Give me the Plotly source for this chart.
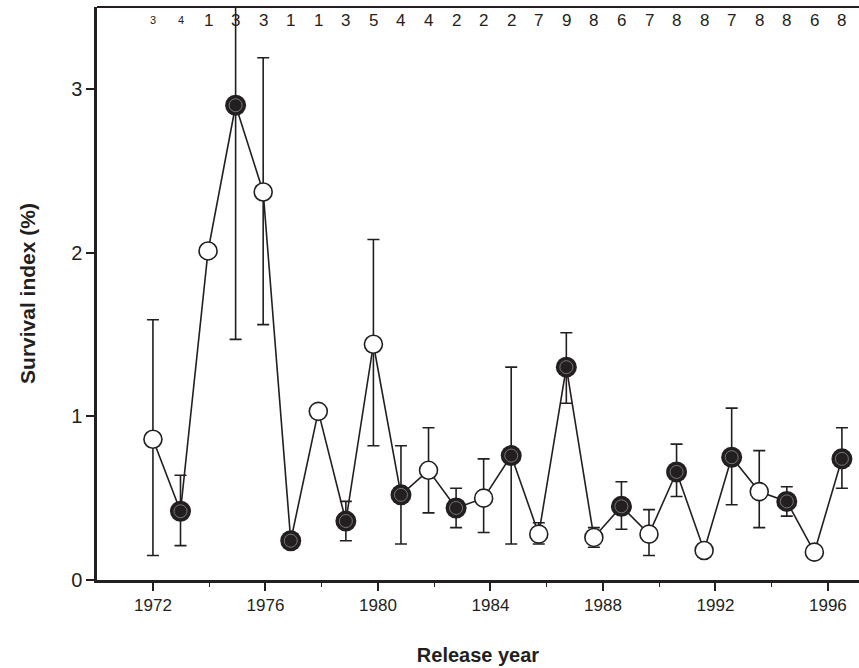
import plotly.graph_objects as go

years = list(range(1972, 1998))
survival = [0.86, 0.42, 2.01, 2.90, 2.37, 0.24, 1.03, 0.36, 1.44, 0.52, 0.67, 0.44, 0.50,
            0.76, 0.28, 1.30, 0.26, 0.45, 0.28, 0.66, 0.18, 0.75, 0.54, 0.48, 0.17, 0.74]
err_upper = [1.59, 0.64, 2.01, 4.33, 3.19, 0.24, 1.03, 0.48, 2.08, 0.82, 0.93, 0.56, 0.74,
             1.30, 0.35, 1.51, 0.32, 0.60, 0.43, 0.83, 0.18, 1.05, 0.79, 0.57, 0.17, 0.93]
err_lower = [0.15, 0.21, 2.01, 1.47, 1.56, 0.24, 1.03, 0.24, 0.82, 0.22, 0.41, 0.32, 0.29,
             0.22, 0.22, 1.08, 0.20, 0.31, 0.15, 0.51, 0.18, 0.46, 0.32, 0.39, 0.17, 0.56]
filled = [False, True, False, True, False, True, False, True, False, True, False, True, False,
          True, False, True, False, True, False, True, False, True, False, True, False, True]
n_counts = [3, 4, 1, 3, 3, 1, 1, 3, 5, 4, 4, 2, 2, 2, 7, 9, 8, 6, 7, 8, 8, 7, 8, 8, 6, 8]
small_counts = [True, True] + [False] * 24
tick_years = [1972, 1976, 1980, 1984, 1988, 1992, 1996]
minor_years = [1970, 1974, 1978, 1982, 1986, 1990, 1994]

# the printed year axis in the source is slightly stretched relative to the plotted points
AXIS_STRETCH = 1.0205
def axis_pos(yr):
    return 1972 + (yr - 1972) * AXIS_STRETCH

plus = [u - v for u, v in zip(err_upper, survival)]
minus = [v - l for v, l in zip(survival, err_lower)]

INK = "#231f20"
FONT = "Liberation Sans, Arial, sans-serif"

fig = go.Figure()
fig.add_trace(go.Scatter(
    x=years, y=survival, mode="lines",
    line=dict(color=INK, width=1.6),
    error_y=dict(type="data", symmetric=False, array=plus, arrayminus=minus,
                 color=INK, thickness=1.6, width=6),
    showlegend=False, hoverinfo="skip"))

fx = [x for x, f in zip(years, filled) if f]
fy = [y for y, f in zip(survival, filled) if f]
ox = [x for x, f in zip(years, filled) if not f]
oy = [y for y, f in zip(survival, filled) if not f]

fig.add_trace(go.Scatter(
    x=ox, y=oy, mode="markers",
    marker=dict(symbol="circle", size=18, color="white", line=dict(color=INK, width=1.6)),
    showlegend=False))
fig.add_trace(go.Scatter(
    x=fx, y=fy, mode="markers",
    marker=dict(symbol="circle", size=21, color=INK, line=dict(color=INK, width=0)),
    showlegend=False))
fig.add_trace(go.Scatter(
    x=fx, y=fy, mode="markers",
    marker=dict(symbol="circle-open", size=13, color="#8a8a8a", line=dict(color="#8a8a8a", width=0.8)),
    showlegend=False))

for yr, n, sm in zip(years, n_counts, small_counts):
    fig.add_annotation(x=yr, y=0.977, xref="x", yref="paper", text=str(n), showarrow=False,
                       font=dict(size=11 if sm else 17, color=INK, family=FONT),
                       yanchor="middle", xanchor="center")

fig.add_shape(type="line", xref="paper", yref="paper", x0=0, x1=1, y0=1, y1=1,
              line=dict(color=INK, width=2))

fig.update_layout(
    width=859, height=668,
    margin=dict(l=97, r=0, t=7, b=88),
    plot_bgcolor="white", paper_bgcolor="white",
    font=dict(family=FONT, color=INK),
)
fig.update_xaxes(
    range=[1969.97, 1997.62], showgrid=False, zeroline=False,
    showline=True, linecolor=INK, linewidth=2.5,
    tickmode="array", tickvals=[axis_pos(t) for t in tick_years], ticktext=[str(t) for t in tick_years],
    ticks="outside", ticklen=8, tickwidth=1.5, tickcolor=INK,
    tickfont=dict(size=17, family=FONT),
    minor=dict(tickmode="array", tickvals=[axis_pos(t) for t in minor_years],
               ticks="outside", ticklen=4, tickwidth=1.2, tickcolor=INK),
    title=dict(text="<b>Release year</b>", standoff=34, font=dict(size=20, family=FONT)),
)
fig.update_yaxes(
    range=[0, 3.5], showgrid=False, zeroline=False,
    showline=True, linecolor=INK, linewidth=2.5,
    tickvals=[0, 1, 2, 3], ticks="outside", ticklen=8, tickwidth=1.5, tickcolor=INK,
    tickfont=dict(size=20, family=FONT),
    title=dict(text="<b>Survival index (%)</b>", standoff=30, font=dict(size=21, family=FONT)),
)

fig.write_html("out.html")
